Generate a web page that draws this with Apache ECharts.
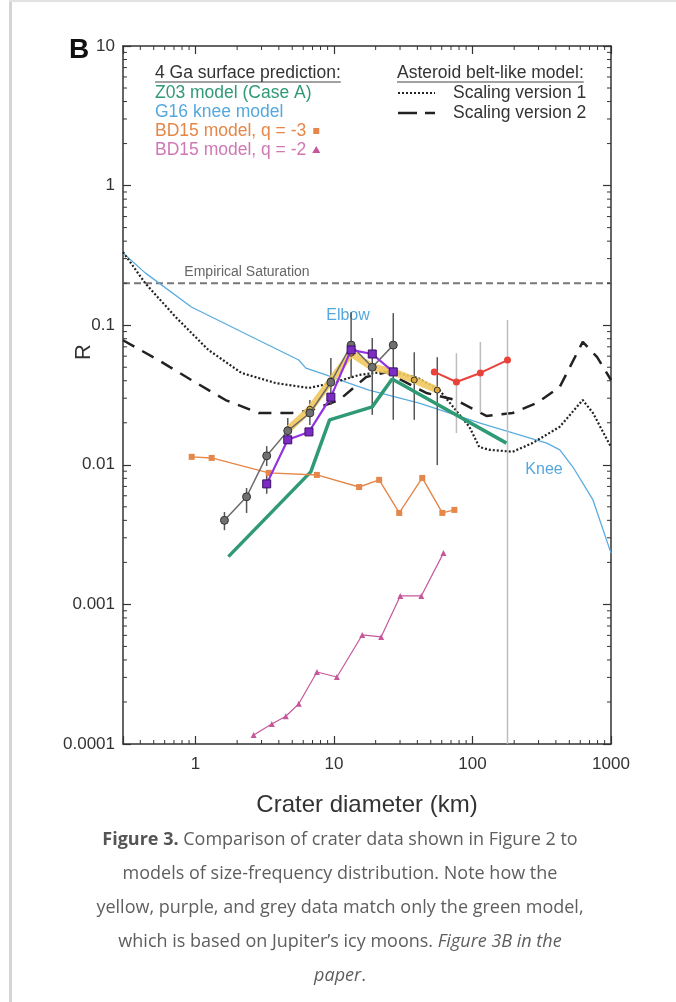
<!DOCTYPE html>
<html><head><meta charset="utf-8">
<script src="https://cdn.jsdelivr.net/npm/echarts@6/dist/echarts.min.js"></script>
<style>
html,body{margin:0;padding:0;background:#fff;width:676px;height:1002px;overflow:hidden;}
#chart{position:absolute;left:0;top:0;width:676px;height:830px;z-index:1;}
#cap{position:absolute;left:12px;width:656px;top:821px;text-align:center;font-family:'Open Sans',sans-serif;font-size:18px;line-height:34px;color:#5e5e5e;z-index:2;}
#cap b{color:#555;}
#lb{position:absolute;left:9px;top:0;width:3px;height:1002px;background:#d4d4d4;z-index:3;}
#tb{position:absolute;left:9px;top:0;width:667px;height:2px;background:#e2e2e2;z-index:3;}
</style></head><body>
<div id="chart"></div>
<div id="cap"><b>Figure 3.</b> Comparison of crater data shown in Figure 2 to<br>models of size-frequency distribution. Note how the<br>yellow, purple, and grey data match only the green model,<br>which is based on Jupiter’s icy moons. <i>Figure 3B in the</i><br><i>paper</i>.</div>
<div id="lb"></div><div id="tb"></div>
<script>
// ---- axis ticks ----
const xTickVals = [1, 10, 100, 1000];
const xTickLabels = ['1', '10', '100', '1000'];
const yTickVals = [0.0001, 0.001, 0.01, 0.1, 1, 10];
const yTickLabels = ['0.0001', '0.001', '0.01', '0.1', '1', '10'];
const X_MIN = 0.3, X_MAX = 1000, Y_MIN = 0.0001, Y_MAX = 10;

// ---- empirical saturation ----
const satX = [0.3, 1000];
const satY = [0.2, 0.2];

// ---- G16 knee model (blue) ----
const g16X = [0.3, 0.434, 0.935, 2.86, 5.57, 6.27, 8.75, 12.8, 17.9, 41.3, 112, 195, 344, 427, 531, 741, 1000];
const g16Y = [0.329, 0.237, 0.135, 0.078, 0.0563, 0.0493, 0.044, 0.0385, 0.0343, 0.0277, 0.020, 0.0169, 0.0143, 0.0128, 0.00964, 0.0056, 0.00233];

// ---- Asteroid belt-like, scaling version 1 (dotted) ----
const v1X = [0.3, 0.434, 0.716, 1.24, 2.15, 3.8, 6.59, 9.7, 15.2, 25, 40, 57.7, 95, 112, 133, 195, 271, 426, 625, 741, 1000];
const v1Y = [0.334, 0.2, 0.115, 0.0665, 0.0455, 0.0385, 0.0355, 0.0385, 0.044, 0.047, 0.042, 0.0343, 0.0187, 0.0134, 0.0128, 0.0124, 0.0143, 0.0187, 0.0291, 0.0235, 0.0134];

// ---- scaling version 2 (dashed) ----
const v2X = [0.3, 0.54, 0.935, 1.65, 2.86, 4.96, 6.93, 10.9, 17.1, 24, 46.4, 76, 126, 195, 291, 426, 625, 794, 1000];
const v2Y = [0.078, 0.0563, 0.0405, 0.0291, 0.0235, 0.0235, 0.0247, 0.0291, 0.0426, 0.046, 0.0327, 0.0291, 0.0224, 0.0235, 0.0277, 0.036, 0.076, 0.059, 0.0405];

// ---- Z03 model (green) ----
const z03X = [1.73, 6.8, 9.3, 18.9, 26.3, 176];
const z03Y = [0.0022, 0.0089, 0.021, 0.026, 0.0412, 0.0143];

// ---- BD15 q=-3 (orange squares) ----
const bd3X = [0.94, 1.31, 3.38, 7.53, 15.2, 21.2, 29.6, 43.4, 60.6, 74];
const bd3Y = [0.0114, 0.0112, 0.00875, 0.00846, 0.00693, 0.0078, 0.00452, 0.00805, 0.00452, 0.00475];

// ---- BD15 q=-2 (pink triangles) ----
const bd2X = [2.63, 3.56, 4.49, 5.57, 7.54, 10.5, 16, 21.9, 30.1, 42.7, 61.7];
const bd2Y = [0.000116, 0.000139, 0.000158, 0.000194, 0.000328, 0.000302, 0.000604, 0.000585, 0.00115, 0.00115, 0.00233];

// ---- crater data ----
const greyX = [1.62, 2.34, 3.27, 4.64, 6.7, 9.5, 13.3, 18.9, 26.8];
const greyY = [0.0040, 0.0059, 0.0116, 0.0175, 0.0235, 0.039, 0.072, 0.050, 0.072];
const purpX = [3.27, 4.64, 6.6, 9.5, 13.3, 18.9, 26.8];
const purpY = [0.0073, 0.0151, 0.0172, 0.0305, 0.0665, 0.0622, 0.0463];
const yelX = [4.64, 6.7, 9.5, 13.3, 18.9, 26.8, 38, 55.7];
const yelY = [0.0178, 0.025, 0.040, 0.063, 0.050, 0.0463, 0.0405, 0.0343];
const redX = [53, 76.6, 114, 179];
const redY = [0.0463, 0.0392, 0.0455, 0.0563];

// ---- error bars ----
const errX  = [1.62, 2.34, 3.27, 4.64, 6.7, 9.5, 13.3, 18.9, 26.8, 38, 55.7, 3.27];
const errLo = [0.0034, 0.00452, 0.0098, 0.0143, 0.0193, 0.0268, 0.0419, 0.0228, 0.021, 0.021, 0.00995, 0.0062];
const errHi = [0.00459, 0.00682, 0.0136, 0.0216, 0.0291, 0.0582, 0.124, 0.081, 0.122, 0.064, 0.059, 0.0086];
const errRedX  = [76.6, 114, 179];
const errRedLo = [0.0169, 0.0235, 0.0001];
const errRedHi = [0.063, 0.0758, 0.109];

function pairs(xs, ys) { return xs.map((x, i) => [x, ys[i]]); }
function fmt(vals, labels) {
  return v => { for (let i = 0; i < vals.length; i++) { if (Math.abs(Math.log10(v) - Math.log10(vals[i])) < 1e-6) return labels[i]; } return ''; };
}
const xMinor = [], yMinor = [];
for (let e = -1; e <= 2; e++) for (let m = 2; m <= 9; m++) { const v = m * Math.pow(10, e); if (v > X_MIN * 1.001 && v < X_MAX * 0.999) xMinor.push(v); }
for (let e = -4; e <= 0; e++) for (let m = 2; m <= 9; m++) { const v = m * Math.pow(10, e); if (v > Y_MIN && v < Y_MAX) yMinor.push(v); }

const FONT = '"Liberation Sans", Arial, sans-serif';
const mctx = document.createElement('canvas').getContext('2d');
function tw(t, size) { mctx.font = size + 'px ' + FONT; return mctx.measureText(t).width; }

const chart = echarts.init(document.getElementById('chart'), null, { renderer: 'canvas' });

function errSeries(data, color, w) {
  return {
    type: 'custom', silent: true, z: 3, clip: false,
    encode: { x: 0, y: [1, 2] },
    data: data,
    renderItem: (p, api) => {
      const x = api.value(0);
      const a = api.coord([x, api.value(1)]), b = api.coord([x, api.value(2)]);
      return { type: 'line', shape: { x1: a[0], y1: a[1], x2: b[0], y2: b[1] }, style: { stroke: color, lineWidth: w } };
    }
  };
}
function lineS(data, color, width, extra) {
  return Object.assign({
    type: 'line', data: data, showSymbol: false, symbol: 'none', silent: true, animation: false,
    lineStyle: { color: color, width: width }, itemStyle: { color: color }, z: 2
  }, extra || {});
}

const LX = 155, RX = 397, LF = 17.5;
const rowsL = [73, 93, 112, 131, 150];
const rowsR = [73, 93, 113];
const legendGraphics = [];
function txt(t, x, y, color, size, extra) {
  return Object.assign({ type: 'text', x: x, y: y, silent: true,
    style: Object.assign({ text: t, font: size + 'px ' + FONT, fill: color, textAlign: 'left', align: 'left', textVerticalAlign: 'middle', verticalAlign: 'middle' }, (extra && extra.style) || {}) }, (extra && extra.el) || {});
}
legendGraphics.push(txt('4 Ga surface prediction:', LX, rowsL[0], '#333', LF));
legendGraphics.push({ type: 'line', silent: true, shape: { x1: LX, y1: rowsL[0] + 9, x2: LX + tw('4 Ga surface prediction:', LF), y2: rowsL[0] + 9 }, style: { stroke: '#444', lineWidth: 1 } });
legendGraphics.push(txt('Z03 model (Case A)', LX, rowsL[1], '#2f9a74', LF));
legendGraphics.push(txt('G16 knee model', LX, rowsL[2], '#55a8de', LF));
legendGraphics.push(txt('BD15 model, q = -3', LX, rowsL[3], '#e5874a', LF));
legendGraphics.push({ type: 'rect', silent: true, shape: { x: LX + tw('BD15 model, q = -3', LF) + 7, y: rowsL[3] - 3, width: 6, height: 6 }, style: { fill: '#e5874a' } });
legendGraphics.push(txt('BD15 model, q = -2', LX, rowsL[4], '#cf78b4', LF));
(function () {
  const cx = LX + tw('BD15 model, q = -2', LF) + 10, cy = rowsL[4];
  legendGraphics.push({ type: 'polygon', silent: true, shape: { points: [[cx, cy - 4], [cx - 4, cy + 3], [cx + 4, cy + 3]] }, style: { fill: '#c4589a' } });
})();
legendGraphics.push(txt('Asteroid belt-like model:', RX, rowsR[0], '#333', LF));
legendGraphics.push({ type: 'line', silent: true, shape: { x1: RX, y1: rowsR[0] + 9, x2: RX + tw('Asteroid belt-like model:', LF), y2: rowsR[0] + 9 }, style: { stroke: '#444', lineWidth: 1 } });
legendGraphics.push({ type: 'line', silent: true, shape: { x1: RX + 1, y1: rowsR[1], x2: RX + 38, y2: rowsR[1] }, style: { stroke: '#222', lineWidth: 2, lineDash: [2, 2] } });
legendGraphics.push(txt('Scaling version 1', RX + 56, rowsR[1], '#333', LF));
legendGraphics.push({ type: 'line', silent: true, shape: { x1: RX + 1, y1: rowsR[2], x2: RX + 38, y2: rowsR[2] }, style: { stroke: '#222', lineWidth: 2.5, lineDash: [19, 8] } });
legendGraphics.push(txt('Scaling version 2', RX + 56, rowsR[2], '#333', LF));

const other = [
  txt('B', 69, 50, '#111', 28, { style: { font: 'bold 28px ' + FONT } }),
  txt('Empirical Saturation', 247, 272, '#666', 14, { style: { textAlign: 'center', align: 'center' } }),
  txt('Elbow', 348, 316, '#55a8de', 16, { style: { textAlign: 'center', align: 'center' } }),
  txt('Knee', 544, 470, '#55a8de', 16, { style: { textAlign: 'center', align: 'center' } }),
  txt('Crater diameter (km)', 367, 805, '#333', 24, { style: { textAlign: 'center', align: 'center' } }),
  txt('R', 84, 352, '#333', 22, { style: { textAlign: 'center', align: 'center' }, el: { rotation: Math.PI / 2 } })
];

const axisCommon = {
  type: 'log', logBase: 10,
  axisLine: { show: true, lineStyle: { color: '#333', width: 1.5 } },
  axisTick: { show: true, inside: true, length: 8, lineStyle: { color: '#333', width: 1.2 } },
  splitLine: { show: false }, minorTick: { show: false }, minorSplitLine: { show: false }
};

chart.setOption({
  animation: false,
  backgroundColor: 'transparent',
  grid: { left: 123, right: 65, top: 46, bottom: 86, containLabel: false, outerBoundsMode: 'none' },
  xAxis: [
    Object.assign({}, axisCommon, { min: X_MIN, max: X_MAX, position: 'bottom',
      axisLabel: { show: true, margin: 12, color: '#333', fontSize: 17, fontFamily: FONT, formatter: fmt(xTickVals, xTickLabels), hideOverlap: false, showMinLabel: true, showMaxLabel: true } }),
    Object.assign({}, axisCommon, { min: X_MIN, max: X_MAX, position: 'top', axisLabel: { show: false } })
  ],
  yAxis: [
    Object.assign({}, axisCommon, { min: Y_MIN, max: Y_MAX, position: 'left',
      axisLabel: { show: true, margin: 8, color: '#333', fontSize: 17, fontFamily: FONT, formatter: fmt(yTickVals, yTickLabels), hideOverlap: false, showMinLabel: true, showMaxLabel: true } }),
    Object.assign({}, axisCommon, { min: Y_MIN, max: Y_MAX, position: 'right', axisLabel: { show: false } })
  ],
  graphic: { elements: legendGraphics.concat(other) },
  series: [
    lineS(pairs(satX, satY), '#777', 2, { lineStyle: { color: '#777', width: 2, type: [7, 4] } }),
    lineS(pairs(g16X, g16Y), '#5aacdf', 1.3),
    lineS(pairs(v1X, v1Y), '#222', 2.2, { lineStyle: { color: '#222', width: 2.2, type: [2, 2] } }),
    lineS(pairs(v2X, v2Y), '#222', 2.5, { lineStyle: { color: '#222', width: 2.5, type: [13, 9] } }),
    lineS(pairs(z03X, z03Y), '#2f9a74', 3.5, { z: 3 }),
    lineS(pairs(bd3X, bd3Y), '#e5874a', 1.4, { showSymbol: true, symbol: 'rect', symbolSize: 6, z: 3 }),
    lineS(pairs(bd2X, bd2Y), '#c4589a', 1.2, { showSymbol: true, symbol: 'triangle', symbolSize: 6, z: 3 }),
    errSeries(errX.map((x, i) => [x, errLo[i], errHi[i]]), '#555', 1.5),
    errSeries(errRedX.map((x, i) => [x, errRedLo[i], errRedHi[i]]), '#bdbdbd', 1.5),
    lineS(pairs(yelX, yelY), '#f0c65c', 7, { z: 4, showSymbol: true, symbol: 'circle', symbolSize: 6,
      lineStyle: { color: '#f1c85e', width: 7, opacity: 0.9 }, itemStyle: { color: '#d8a83a', borderColor: '#333', borderWidth: 1 } }),
    lineS(pairs(greyX, greyY), '#6a6a6a', 1.5, { z: 5, showSymbol: true, symbol: 'circle', symbolSize: 8,
      itemStyle: { color: '#707070', borderColor: '#333', borderWidth: 1 } }),
    lineS(pairs(purpX, purpY), '#9431e0', 2.2, { z: 6, showSymbol: true, symbol: 'rect', symbolSize: 8,
      itemStyle: { color: '#7c2cc4', borderColor: '#3a1060', borderWidth: 1 } }),
    lineS(pairs(redX, redY), '#e8433b', 2, { z: 6, showSymbol: true, symbol: 'circle', symbolSize: 7 }),
    {
      type: 'custom', silent: true, z: 10, clip: false, encode: { x: 0, y: 1 },
      data: xMinor.map(v => [v, Y_MIN]),
      renderItem: (p, api) => {
        const v = api.value(0); const b = api.coord([v, Y_MIN]); const t = api.coord([v, Y_MAX]);
        return { type: 'group', children: [
          { type: 'line', shape: { x1: b[0], y1: b[1], x2: b[0], y2: b[1] - 4 }, style: { stroke: '#333', lineWidth: 1 } },
          { type: 'line', shape: { x1: t[0], y1: t[1], x2: t[0], y2: t[1] + 4 }, style: { stroke: '#333', lineWidth: 1 } }] };
      }
    },
    {
      type: 'custom', silent: true, z: 10, clip: false, encode: { x: 0, y: 1 },
      data: yMinor.map(v => [X_MIN, v]),
      renderItem: (p, api) => {
        const v = api.value(1); const l = api.coord([X_MIN, v]); const r = api.coord([X_MAX, v]);
        return { type: 'group', children: [
          { type: 'line', shape: { x1: l[0], y1: l[1], x2: l[0] + 4, y2: l[1] }, style: { stroke: '#333', lineWidth: 1 } },
          { type: 'line', shape: { x1: r[0], y1: r[1], x2: r[0] - 4, y2: r[1] }, style: { stroke: '#333', lineWidth: 1 } }] };
      }
    }
  ]
});
</script>
</body></html>
